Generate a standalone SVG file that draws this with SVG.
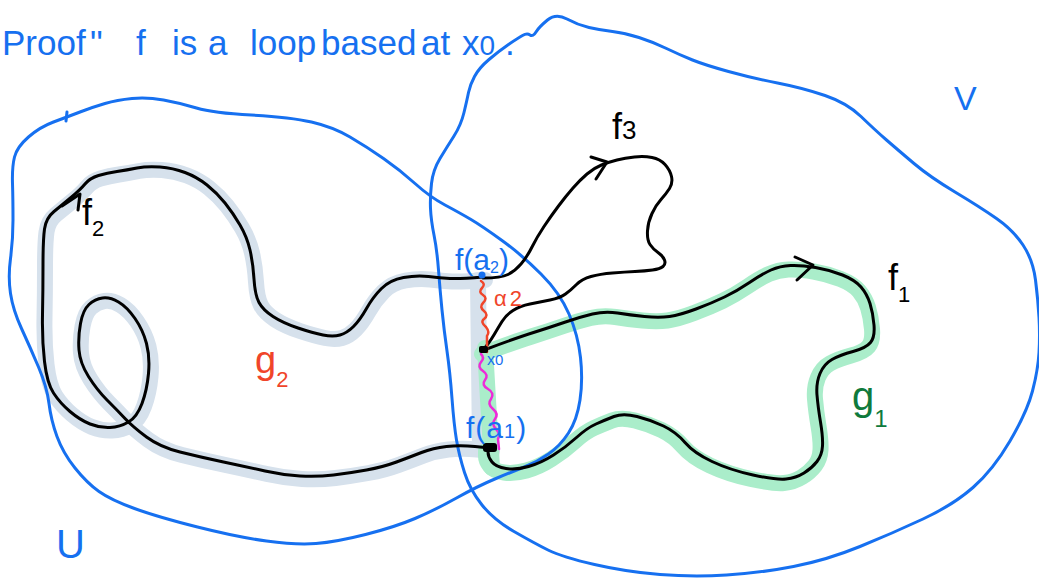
<svg xmlns="http://www.w3.org/2000/svg" xmlns:xlink="http://www.w3.org/1999/xlink" width="1039" height="579" viewBox="0 0 1039 579">
<style>
.region{fill:none;stroke:#1670f0;stroke-width:3;stroke-linecap:round;stroke-linejoin:round}
.curve{fill:none;stroke:#000;stroke-width:3;stroke-linecap:round;stroke-linejoin:round}
.bandG{fill:none;stroke:#aaedca;stroke-width:16;stroke-linecap:round;stroke-linejoin:round}
.bandB{fill:none;stroke:#d6e1ec;stroke-width:16;stroke-linecap:round;stroke-linejoin:round}
.wig{fill:none;stroke-width:2.5;stroke-linecap:round;stroke-linejoin:round}
text{font-family:"Liberation Sans",Arial,sans-serif}
.blue{fill:#1670f0}
.blk{fill:#000}
</style>
<defs>
<path id="pF2" d="M483,277 Q460,279 450,278.5 Q440,278 428.5,276.5 Q417,275 403.5,277.5 Q390,280 381.5,288.5 Q373,297 366.5,308.5 Q360,320 353.5,326.5 Q347,333 340,335 Q333,337 323,335 Q313,333 298,328 Q283,323 273,316.5 Q263,310 259,302.5 Q255,295 254,279 Q253,263 250,250 Q247,237 240,225 Q233,213 225,203 Q217,193 207,185 Q197,177 185,172.5 Q173,168 160,167 Q147,166 137,168 Q127,170 117,171.5 Q107,173 98.5,175.5 Q90,178 85,184 Q80,190 71,197.5 Q62,205 54,211.5 Q46,218 44.5,229 Q43,240 43,265 Q43,290 42.5,315 Q42,340 44.5,361.5 Q47,383 53.5,393 Q60,403 70,411.5 Q80,420 90,424 Q100,428 110,427.5 Q120,427 128.5,422 Q137,417 142,403.5 Q147,390 148.5,373.5 Q150,357 146.5,343.5 Q143,330 135,318.5 Q127,307 118.5,302 Q110,297 102.5,298 Q95,299 89,304.5 Q83,310 80.5,323.5 Q78,337 79,350 Q80,363 88.5,376.5 Q97,390 107,400 Q117,410 125,418.5 Q133,427 146.5,437 Q160,447 180,452 Q200,457 223.5,462 Q247,467 265,471 Q283,475 300,476 Q317,477 333.5,475 Q350,473 366.5,470 Q383,467 396.5,462 Q410,457 421.5,452.5 Q433,448 446.5,446.5 Q460,445 475,446.5 L490,448"/>
<path id="pF1" d="M484,350 Q516,338 533.5,332.5 Q551,327 565.5,322 Q580,317 592.5,314 Q605,311 617.5,313 Q630,315 644.5,316.5 Q659,318 669.5,316.5 Q680,315 696,309 Q712,303 724.5,297 Q737,291 749.5,282.5 Q762,274 771,270 Q780,266 790.5,265.5 Q801,265 815.5,267.5 Q830,270 842.5,275 Q855,280 861,287 Q867,294 870,303.5 Q873,313 874,325 Q875,337 870.5,342.5 Q866,348 853,351.5 Q840,355 832,359.5 Q824,364 820,373.5 Q816,383 817,395 Q818,407 820.5,422 Q823,437 822.5,446 Q822,455 817,461.5 Q812,468 804,473 Q796,478 786,479 Q776,480 753,475 Q730,470 712,461.5 Q694,453 685,442.5 Q676,432 663.5,426 Q651,420 637,416.5 Q623,413 614,416.5 Q605,420 596,424 Q587,428 576.5,437.5 Q566,447 553.5,455 Q541,463 528.5,466.5 Q516,470 506,468.5 Q496,467 492,462 Q488,457 488,452 L488,447"/>
</defs>

<g id="bands">
<use xlink:href="#pF2" href="#pF2" class="bandB" transform="translate(2,3)"/>
<line class="bandB" x1="478" y1="280" x2="480" y2="446"/>
<use xlink:href="#pF1" href="#pF1" class="bandG" transform="translate(-2,4)"/>
<line class="bandG" x1="485" y1="348" x2="492" y2="468"/>
</g>

<g id="region-U">
<path class="region" d="M53.5,122 Q67,117 80,112 Q93,107 105,103.5 Q117,100 132,98.5 Q147,97 163.5,100 Q180,103 196.5,108 Q213,113 251.5,115 Q290,117 311.5,122 Q333,127 350,137 Q367,147 383.5,158.5 Q400,170 415,183.5 Q430,197 445,205 Q460,213 471,219.5 Q482,226 502,240.5 Q522,255 541,274 Q560,293 569,314 Q578,335 580.5,357.5 Q583,380 580,400 Q577,420 568.5,433 Q560,446 548.5,454 Q537,462 525.5,466.5 Q514,471 496,478.5 Q478,486 456.5,498 Q435,510 415,518.5 Q395,527 365.5,534.5 Q336,542 316,543.5 Q296,545 266.5,541 Q237,537 197.5,527 Q158,517 134.5,508.5 Q111,500 99,491.5 Q87,483 75,468 Q63,453 57,436.5 Q51,420 49,403.5 Q47,387 38.5,367 Q30,347 21.5,328.5 Q13,310 10.5,293.5 Q8,277 10.5,258.5 Q13,240 13,220 Q13,200 12.5,183.5 Q12,167 14.5,157 Q17,147 28.5,137 Q40,127 53.5,122 Z"/>
<path class="region" d="M67,112 L66,121"/>
<text class="blue" x="56" y="558" font-size="40">U</text>
</g>

<g id="region-V">
<path class="region" d="M430.5,208.5 Q430,197 431.5,183.5 Q433,170 440,158.5 Q447,147 454,136 Q461,125 464,112.5 Q467,100 468.5,92.5 Q470,85 474.5,76.5 Q479,68 489,59.5 Q499,51 508.5,44.5 Q518,38 522.5,35.5 Q527,33 530,35 Q533,37 536,32 Q539,27 547.5,20 Q556,13 567,19 Q578,25 589,27.5 Q600,30 612.5,31.5 Q625,33 639,37.5 Q653,42 666.5,48.5 Q680,55 692.5,60 Q705,65 728.5,71.5 Q752,78 777.5,83 Q803,88 825,95.5 Q847,103 861,116.5 Q875,130 886.5,140 Q898,150 914,163.5 Q930,177 955,192 Q980,207 996.5,218.5 Q1013,230 1023,245 Q1033,260 1035.5,280 Q1038,300 1039,317.5 Q1040,335 1039,352.5 Q1038,370 1032.5,391 Q1027,412 1010,441 Q993,470 973,487.5 Q953,505 923,519 Q893,533 860,546.5 Q827,560 793.5,566.5 Q760,573 726.5,575 Q693,577 660,574.5 Q627,572 594.5,564.5 Q562,557 548,550 Q534,543 514,531.5 Q494,520 482,505 Q470,490 464.5,472.5 Q459,455 456.5,440 Q454,425 452,398.5 Q450,372 447,351 Q444,330 442,310 Q440,290 438.5,270 Q437,250 434,235 Q431,220 430.5,208.5 Z"/>
<text class="blue" x="954" y="110" font-size="34">V</text>
</g>

<g id="connectors">
<use xlink:href="#pF2" href="#pF2" class="curve"/>
<path class="curve" d="M483,278 Q501,278 508,274.5 Q515,271 521,264 Q527,257 532,247 Q537,237 544,226.5 Q551,216 558.5,206 Q566,196 573,188 Q580,180 587,174 Q594,168 601.5,165 Q609,162 617,160 Q625,158 634.5,157 Q644,156 652,157.5 Q660,159 665,164.5 Q670,170 671.5,176.5 Q673,183 669.5,188.5 Q666,194 661,199.5 Q656,205 652,213.5 Q648,222 647.5,231 Q647,240 650,244.5 Q653,249 658,252.5 Q663,256 664.5,260 Q666,264 663,266.5 Q660,269 652.5,270 Q645,271 635,271.5 Q625,272 612.5,273 Q600,274 591,276.5 Q582,279 576.5,284.5 Q571,290 565.5,294 Q560,298 550,300 Q540,302 530,304 Q520,306 513,310.5 Q506,315 502,321.5 Q498,328 494.5,334 Q491,340 487.5,344.5 L484,349"/>
<use xlink:href="#pF1" href="#pF1" class="curve"/>
<path class="curve" d="M62,206 L80,194 L78,210"/>
<path class="curve" d="M591,157 L607,162 L596,179"/>
<path class="curve" d="M795,257 L813,265 L797,280"/>
<path class="wig" stroke="#f0452a" d="M481,281 q5,3 1,7 q-4,4 1,7 q5,3 0,8 q-4,4 1,8 q5,4 0,8 q-4,3 2,8 q4,5 1,9 l0,16"/>
<path class="wig" stroke="#ee2ad8" d="M481,354 q4,4 0,8 q-4,5 2,9 q6,4 2,9 q-4,5 3,9 q7,4 3,10 q-4,5 2,10 q6,5 2,10 q-4,5 1,10 q5,5 2,10 l1,10"/>
</g>

<g id="point-fa2">
<circle cx="482" cy="275" r="3.5" fill="#1670f0"/>
<text class="blue" x="455" y="270" font-size="30">f(a<tspan font-size="16" dy="3">2</tspan><tspan dy="-3">)</tspan></text>
</g>
<g id="point-x0">
<rect x="479" y="346" width="9" height="7" rx="2" fill="#000"/>
<text class="blue" x="487" y="365" font-size="16">x<tspan font-size="15">0</tspan></text>
</g>
<g id="point-fa1">
<rect x="483" y="443" width="14" height="9" rx="3" fill="#000"/>
<text class="blue" x="466" y="438" font-size="30" letter-spacing="1">f(a<tspan font-size="20">1</tspan>)</text>
</g>
<g id="label-alpha2">
<text x="494" y="306" font-size="22" fill="#f0452a" letter-spacing="3">α2</text>
</g>
<g id="label-g2">
<text x="255" y="373" font-size="38" fill="#f0452a">g<tspan font-size="22" dy="14">2</tspan></text>
</g>
<g id="label-g1">
<text x="852" y="410" font-size="40" fill="#0f7a3c">g<tspan font-size="24" dy="17">1</tspan></text>
</g>
<g id="label-f1">
<text class="blk" x="888" y="290" font-size="36">f<tspan font-size="22" dy="12">1</tspan></text>
</g>
<g id="label-f2">
<text class="blk" x="82" y="225" font-size="36">f<tspan font-size="22" dy="11">2</tspan></text>
</g>
<g id="label-f3">
<text class="blk" x="612" y="139" font-size="36">f<tspan font-size="26">3</tspan></text>
</g>

<g id="title" class="blue" font-size="35">
<text class="blue" x="2" y="55">Proof<tspan dx="4">''</tspan></text>
<text class="blue" x="136" y="55">f</text>
<text class="blue" x="172" y="55">is</text>
<text class="blue" x="208" y="55">a</text>
<text class="blue" x="250" y="55">loop</text>
<text class="blue" x="321" y="55">based</text>
<text class="blue" x="421" y="55">at</text>
<text class="blue" x="462" y="55">x<tspan font-size="28">0</tspan></text>
<text class="blue" x="505" y="55">.</text>
</g>
</svg>
